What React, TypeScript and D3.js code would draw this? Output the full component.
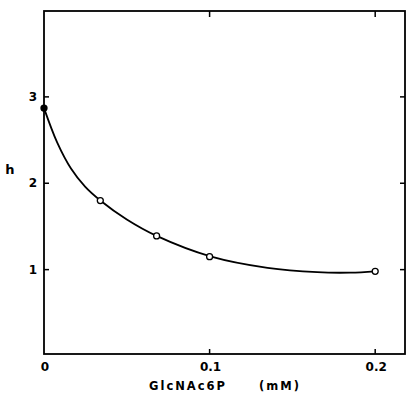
import React from "react";
import * as d3 from "d3";

const pointX = [0, 0.034, 0.068, 0.1, 0.2];
const pointH = [2.87, 1.8, 1.39, 1.15, 0.98];
const pointFilled = [true, false, false, false, false];

const curveX = [0, 0.008, 0.0163, 0.0248, 0.034, 0.05, 0.068, 0.101, 0.135, 0.165, 0.185, 0.2];
const curveH = [2.87, 2.47, 2.17, 1.96, 1.8, 1.58, 1.39, 1.15, 1.02, 0.97, 0.965, 0.98];

const xTicks = [0, 0.1, 0.2];
const xTickLabels = ["0", "0.1", "0.2"];
const yTicks = [1, 2, 3];
const yTickLabels = ["1", "2", "3"];

const xLabel = "GlcNAc6P";
const xUnit = "(mM)";
const yLabel = "h";

export default function App() {
  const W = 408, H = 407;
  const x = d3.scaleLinear().domain([0, 0.218]).range([44, 405]);
  const y = d3.scaleLinear().domain([0, 4]).range([356, 10.5]);
  const line = d3
    .line<number>()
    .x((_, i) => x(curveX[i]))
    .y((_, i) => y(curveH[i]))
    .curve(d3.curveCatmullRom.alpha(0.5));
  const x0 = x(0), x1 = x(0.218), yB = 354, yT = 11;
  const font = "'DejaVu Sans', 'Liberation Sans', sans-serif";
  return (
    <svg width={W} height={H} style={{ position: "absolute", left: 0, top: 0, background: "#fff" }}>
      <rect x={0} y={0} width={W} height={H} fill="#fff" />
      <rect x={x0} y={yT} width={x1 - x0} height={yB - yT} fill="none" stroke="#000" strokeWidth={1.8} />
      {xTicks.filter((t) => t > 0).map((t) => (
        <g key={"xt" + t}>
          <line x1={x(t)} x2={x(t)} y1={yB} y2={yB - 5} stroke="#000" strokeWidth={1.5} />
          <line x1={x(t)} x2={x(t)} y1={yT} y2={yT + 6} stroke="#000" strokeWidth={1.5} />
        </g>
      ))}
      {yTicks.map((t) => (
        <g key={"yt" + t}>
          <line x1={x0} x2={x0 + 5} y1={y(t)} y2={y(t)} stroke="#000" strokeWidth={1.5} />
          <line x1={x1} x2={x1 - 5} y1={y(t)} y2={y(t)} stroke="#000" strokeWidth={1.5} />
        </g>
      ))}
      {xTicks.map((t, i) => (
        <text key={"xl" + t} x={x(t) + 1} y={371} textAnchor="middle" fontFamily={font} fontWeight="bold" fontSize={12}>
          {xTickLabels[i]}
        </text>
      ))}
      {yTicks.map((t, i) => (
        <text key={"yl" + t} x={33} y={y(t) + 4} textAnchor="middle" fontFamily={font} fontWeight="bold" fontSize={12}>
          {yTickLabels[i]}
        </text>
      ))}
      <text x={10} y={174} textAnchor="middle" fontFamily={font} fontWeight="bold" fontSize={13}>
        {yLabel}
      </text>
      <text x={188} y={390} textAnchor="middle" fontFamily={font} fontWeight="bold" fontSize={11.5} letterSpacing={2}>
        {xLabel}
      </text>
      <text x={280} y={390} textAnchor="middle" fontFamily={font} fontWeight="bold" fontSize={11.5} letterSpacing={2}>
        {xUnit}
      </text>
      <path d={line(curveX) || ""} fill="none" stroke="#000" strokeWidth={1.8} />
      {pointX.map((px, i) => (
        <circle
          key={"p" + i}
          cx={x(px)}
          cy={y(pointH[i])}
          r={3}
          fill={pointFilled[i] ? "#000" : "#fff"}
          stroke="#000"
          strokeWidth={1.3}
        />
      ))}
    </svg>
  );
}
